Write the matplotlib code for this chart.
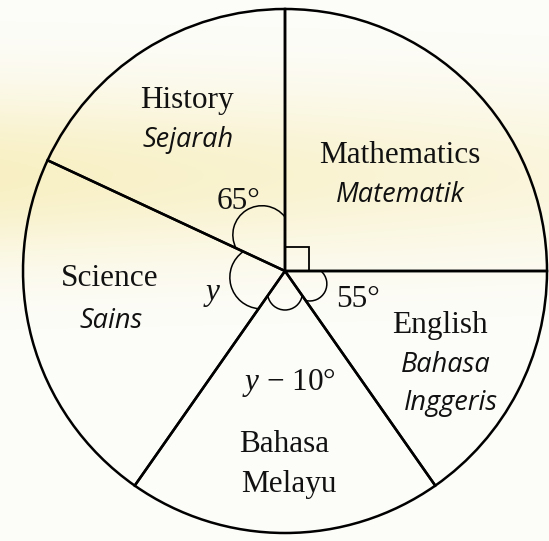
import numpy as np
import matplotlib.pyplot as plt
from matplotlib.patches import Arc, Rectangle

# sector angles in degrees: y + (y - 10) + 90 + 55 + 65 = 360  ->  y = 80
subjects = ["Mathematics", "English", "Bahasa Melayu", "Science", "History"]
angles = [90, 55, 70, 80, 65]

W, H = 549, 541
cx, cy, R = 285, 270, 262

plt.rcParams['mathtext.fontset'] = 'custom'
plt.rcParams['mathtext.rm'] = 'Liberation Serif'
plt.rcParams['mathtext.it'] = 'Liberation Serif:italic'

fig = plt.figure(figsize=(W / 100, H / 100), dpi=100)
ax = fig.add_axes([0, 0, 1, 1])

# slightly yellowed paper
yy, xx = np.mgrid[0:H, 0:W]
band = np.exp(-((yy - 175) / 85.0) ** 2) * (1 - 0.45 * xx / W)
paper = np.array([253, 253, 250]) / 255
tint = np.array([248, 240, 196]) / 255
bg = paper + band[..., None] * (tint - paper)
ax.imshow(bg, extent=(0, W, 0, H), origin='upper', zorder=0)

wedges, _ = ax.pie(angles, startangle=90, counterclock=False, center=(cx, cy), radius=R,
                   wedgeprops=dict(facecolor='none', edgecolor='black', linewidth=1.8),
                   frame=True)

# angle marks: small lobes bulging between the two edges of a sector
lobes = {"English": (36, 45), "Bahasa Melayu": (30, 39), "Science": (46, 56), "History": (54, 72)}
for w, name in zip(wedges, subjects):
    if name == "Mathematics":
        ax.add_patch(Rectangle((cx, cy), 24, 24, fill=False, lw=1.3, ec='black'))
        continue
    t, e = lobes[name]
    half = np.radians((w.theta2 - w.theta1) / 2)
    mid = np.radians((w.theta1 + w.theta2) / 2)
    d = (e ** 2 - t ** 2) / (2 * e - 2 * t * np.cos(half))
    r = e - d
    phi = np.degrees(np.arctan2(t * np.sin(half), t * np.cos(half) - d))
    ox, oy = cx + d * np.cos(mid), cy + d * np.sin(mid)
    ax.add_patch(Arc((ox, oy), 2 * r, 2 * r, theta1=np.degrees(mid) - phi,
                     theta2=np.degrees(mid) + phi, lw=1.1, color='black'))


def label(x, y, s, italic=False, size=22.5):
    if italic:
        ax.text(x, H - y, s, ha='center', va='baseline', fontsize=19.5,
                family='Open Sans', style='italic', color='#111111')
    else:
        ax.text(x, H - y, s, ha='center', va='baseline', fontsize=size,
                family='Liberation Serif', color='#111111')


label(187, 108, "History")
label(188, 147, "Sejarah", italic=True)
label(400, 163, "Mathematics")
label(400, 202, "Matematik", italic=True)
label(110, 286, "Science")
label(111, 328, "Sains", italic=True)
label(440, 333, "English")
label(446, 372, "Bahasa", italic=True)
label(451, 410, "Inggeris", italic=True)
label(284, 452, "Bahasa")
label(289, 492, "Melayu")

label(238, 209, "65°")
label(358, 307, "55°")
label(212, 300, "$y$")
label(289, 390, "$y$ − 10°")

ax.set_xlim(0, W)
ax.set_ylim(0, H)
ax.axis('off')
fig.savefig("out.png", dpi=100)
